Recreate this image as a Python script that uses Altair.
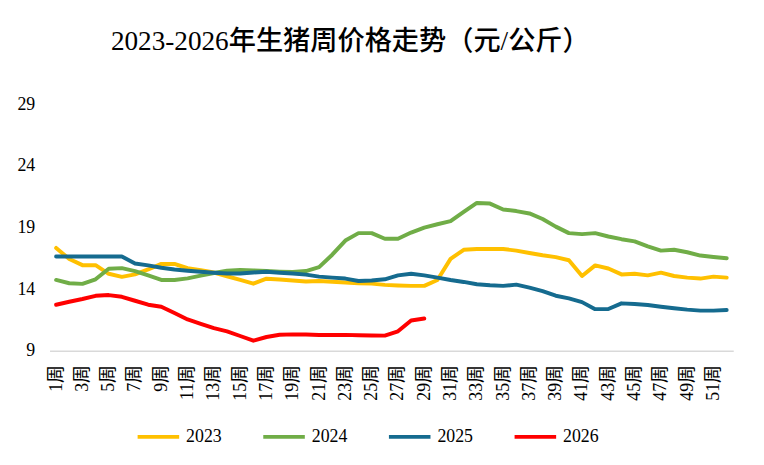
import altair as alt
import pandas as pd

weeks = [f"{i}周" for i in range(1, 53)]
years = ["2023", "2024", "2025", "2026"]
colors = ["#FFC000", "#70AD47", "#156B8F", "#FF0000"]

y2023 = [17.35, 16.45, 15.95, 15.95, 15.25, 15.0, 15.2, 15.6, 16.05, 16.05,
         15.7, 15.55, 15.35, 15.05, 14.75, 14.45, 14.85, 14.78, 14.7, 14.62,
         14.67, 14.6, 14.55, 14.48, 14.45, 14.35, 14.3, 14.27, 14.27, 14.75,
         16.46, 17.2, 17.26, 17.26, 17.26, 17.13, 16.94, 16.75, 16.6, 16.35,
         15.07, 15.93, 15.68, 15.2, 15.26, 15.12, 15.34, 15.07, 14.94, 14.86, 15.02, 14.94]
y2024 = [14.75, 14.48, 14.43, 14.8, 15.66, 15.71, 15.47, 15.12, 14.75, 14.75,
         14.88, 15.1, 15.31, 15.5, 15.55, 15.52, 15.47, 15.42, 15.39, 15.47,
         15.79, 16.8, 17.95, 18.55, 18.55, 18.09, 18.09, 18.6, 19.0, 19.27,
         19.53, 20.28, 21.0, 20.95, 20.47, 20.34, 20.15, 19.7, 19.08, 18.55,
         18.47, 18.55, 18.28, 18.06, 17.88, 17.48, 17.13, 17.2, 17.0, 16.73, 16.62, 16.51]
y2025 = [16.65, 16.65, 16.65, 16.65, 16.65, 16.65, 16.09, 15.93, 15.74, 15.6,
         15.5, 15.42, 15.34, 15.28, 15.28, 15.36, 15.42, 15.34, 15.28, 15.18,
         15.02, 14.94, 14.86, 14.67, 14.7, 14.8, 15.12, 15.26, 15.12, 14.94,
         14.75, 14.59, 14.4, 14.32, 14.27, 14.37, 14.13, 13.84, 13.47, 13.25,
         12.95, 12.38, 12.39, 12.85, 12.8, 12.72, 12.58, 12.45, 12.34, 12.26, 12.26, 12.31]
y2026 = [12.74, 12.98, 13.2, 13.46, 13.52, 13.38, 13.06, 12.74, 12.58, 12.07,
         11.54, 11.19, 10.84, 10.58, 10.2, 9.82, 10.12, 10.3, 10.33, 10.32,
         10.28, 10.28, 10.29, 10.26, 10.24, 10.23, 10.58, 11.46, 11.62]

y_ticks = [9, 14, 19, 24, 29]
x_ticks = [f"{i}周" for i in range(1, 53, 2)]

rows = []
for yr, vals in zip(years, [y2023, y2024, y2025, y2026]):
    for i, v in enumerate(vals):
        rows.append({"week": weeks[i], "order": i, "year": yr, "price": v})
df = pd.DataFrame(rows)

serif = "Liberation Serif, Noto Sans CJK SC"

chart = alt.Chart(df).mark_line(strokeWidth=4, strokeCap="round", strokeJoin="round").encode(
    x=alt.X("week:O", sort=weeks, scale=alt.Scale(domain=weeks),
            axis=alt.Axis(title=None, values=x_ticks, labelAngle=270, labelFont=serif,
                          labelFontSize=18, labelColor="#000000", labelPadding=14,
                          ticks=False, domainColor="#D9D9D9", domainWidth=1.5,
                          grid=False, labelOverlap=False)),
    y=alt.Y("price:Q", scale=alt.Scale(domain=[9, 29], nice=False, zero=False),
            axis=alt.Axis(title=None, values=y_ticks, labelFont=serif, labelFontSize=18,
                          labelColor="#000000", labelPadding=15, ticks=False,
                          domain=False, grid=False)),
    color=alt.Color("year:N", scale=alt.Scale(domain=years, range=colors),
                    legend=alt.Legend(title=None, orient="none", direction="horizontal",
                                      legendX=87, legendY=313, symbolType="stroke",
                                      symbolStrokeWidth=4, symbolSize=1764,
                                      labelFont=serif, labelFontSize=18, labelColor="#000000",
                                      columnPadding=34, labelOffset=5)),
    order="order:Q",
).properties(
    width=691, height=249,
    title=alt.TitleParams("2023-2026年生猪周价格走势（元/公斤）", anchor="start", frame="group",
                          dx=62, offset=19, baseline="alphabetic", font=serif,
                          fontSize=27.5, fontWeight=500, color="#000000"),
).configure(
    autosize=alt.AutoSizeParams(type="none"),
    padding={"left": 42, "top": 95, "right": 23, "bottom": 113},
).configure_view(stroke=None)

chart.save("out.html", embed_options={"renderer": "svg", "actions": False})
